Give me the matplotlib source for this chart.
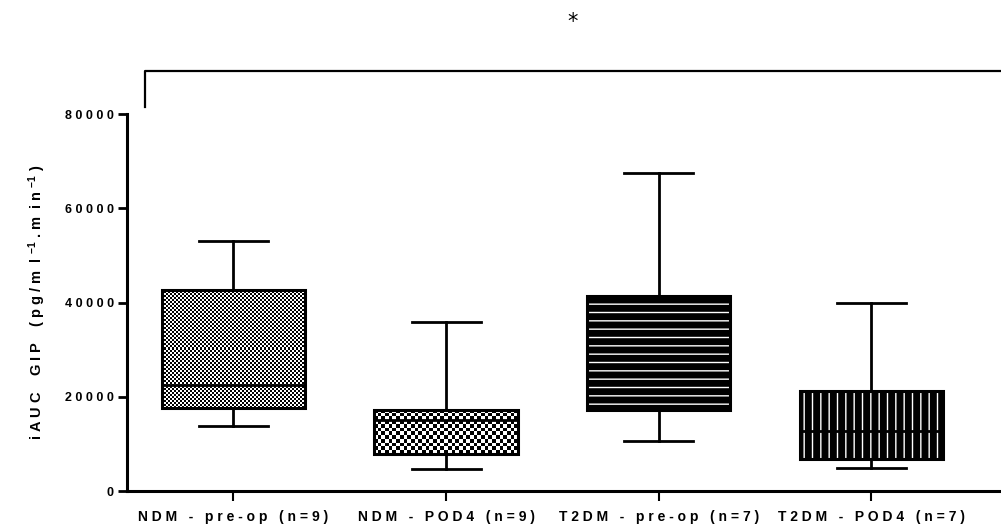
import numpy as np
import matplotlib
matplotlib.use("Agg")
import matplotlib.pyplot as plt
from matplotlib.patches import Rectangle

# box statistics (pg/ml-1.min-1)
groups = ["NDM - pre-op (n=9)", "NDM - POD4 (n=9)", "T2DM - pre-op (n=7)", "T2DM - POD4 (n=7)"]
whis_lo = [13800, 4700, 10600, 4900]
q1 = [17600, 7850, 17200, 6800]
medians = [22500, 15000, 26000, 12700]
q3 = [42650, 17200, 41400, 21200]
whis_hi = [53000, 35900, 67500, 39900]
y_ticks = [0, 20000, 40000, 60000, 80000]

plt.rcParams["font.family"] = ["Liberation Sans", "DejaVu Sans"]
plt.rcParams["font.weight"] = "bold"
plt.rcParams["mathtext.fontset"] = "custom"
plt.rcParams["mathtext.rm"] = "Liberation Sans:bold"
plt.rcParams["mathtext.it"] = "Liberation Sans:bold"
plt.rcParams["mathtext.bf"] = "Liberation Sans:bold"
plt.rcParams["hatch.linewidth"] = 1.0


def spaced(s):
    # letter-spaced look of the original labels
    return " ".join(s).replace("   ", "   ")


fig = plt.figure(figsize=(10.01, 5.31), dpi=100)
ax = fig.add_axes([0.127, 0.0753, 0.873, 0.71])
xlim = (0.5, 4.61)
ylim = (0, 80000)

positions = np.arange(1, len(groups) + 1)
box_w = 0.675
stats = [
    dict(whislo=lo, q1=a, med=m, q3=b, whishi=hi, fliers=[])
    for lo, a, m, b, hi in zip(whis_lo, q1, medians, q3, whis_hi)
]
ax.bxp(stats, positions=positions, widths=box_w, capwidths=0.325,
       patch_artist=True, showfliers=False,
       boxprops=dict(facecolor="none", edgecolor="black", linewidth=2.2),
       whiskerprops=dict(color="black", linewidth=2),
       capprops=dict(color="black", linewidth=2),
       medianprops=dict(color="black", linewidth=2))

# pixel scale for the fill textures
px_x = ax.bbox.width / (xlim[1] - xlim[0])
px_y = ax.bbox.height / (ylim[1] - ylim[0])

fills = ["checker_fine", "checker_coarse", "hstripe", "vstripe"]
for pos, lo, hi, kind in zip(positions, q1, q3, fills):
    left, right = pos - box_w / 2, pos + box_w / 2
    if kind.startswith("checker"):
        cell = 2.0 if kind == "checker_fine" else 3.7
        rows = max(1, int(round((hi - lo) * px_y / cell)))
        cols = max(1, int(round(box_w * px_x / cell)))
        board = np.indices((rows, cols)).sum(axis=0) % 2
        ax.imshow(board, cmap="gray", extent=(left, right, lo, hi),
                  aspect="auto", interpolation="nearest", zorder=1)
    else:
        ax.add_patch(Rectangle((left, lo), box_w, hi - lo, facecolor="black",
                               edgecolor="none", zorder=1))
        ax.add_patch(Rectangle((left, lo), box_w, hi - lo, facecolor="none",
                               edgecolor="white", linewidth=0,
                               hatch="--" if kind == "hstripe" else "||", zorder=1.5))

ax.set_xlim(*xlim)
ax.set_ylim(*ylim)

ax.spines["top"].set_visible(False)
ax.spines["right"].set_visible(False)
ax.spines["left"].set_linewidth(2.2)
ax.spines["bottom"].set_linewidth(2.2)

ax.set_yticks(y_ticks)
ax.set_yticklabels([spaced(str(t)) for t in y_ticks], fontsize=9, fontweight="bold")
ax.set_xticks(positions)
ax.set_xticklabels([spaced(g) for g in groups], fontsize=10, fontweight="bold")
ax.tick_params(axis="y", direction="out", length=6.5, width=2, pad=3)
ax.tick_params(axis="x", direction="out", length=7, width=1.5, pad=7)

ax.set_ylabel(r"i A U C    G I P    ( p g / m  l $^{-1}$ . m  i n $^{-1}$ )",
              fontsize=10.5, fontweight="bold", labelpad=12)

# significance bracket above the plot
ax.plot([0.585, 0.585, 4.8], [81500, 89100, 89100], color="black",
        linewidth=1.6, clip_on=False)
ax.text(2.594, 99500, "*", ha="center", va="center", fontsize=15,
        fontweight="normal", family="DejaVu Sans", clip_on=False)

fig.savefig("out.png", dpi=100)
